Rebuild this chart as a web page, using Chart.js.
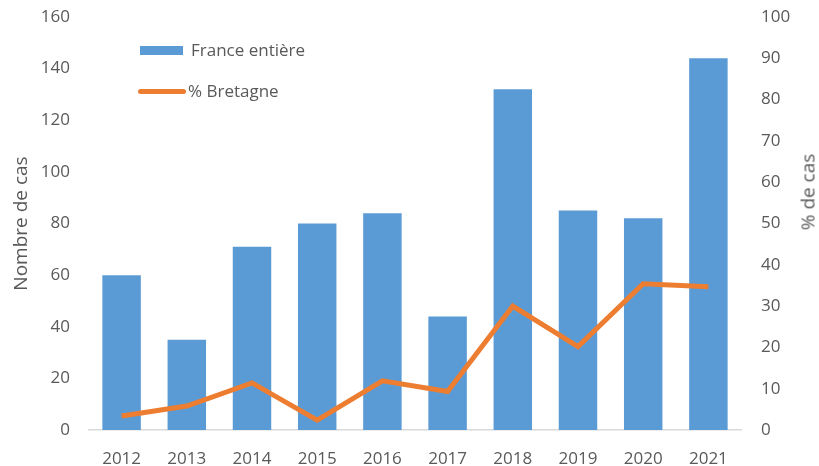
<!DOCTYPE html>
<html>
<head>
<meta charset="utf-8">
<script src="https://cdn.jsdelivr.net/npm/chart.js@4"></script>
<style>
  html, body { margin: 0; padding: 0; background: #fff; }
  #wrap { position: relative; width: 819px; height: 466px; }
  .leg { position: absolute; font: 17px "Open Sans", sans-serif; color: #595959; white-space: nowrap; }
  #rtitle { position: absolute; left: 808px; top: 192px; transform: translate(-50%, -50%) rotate(-90deg);
            font: 19px "Open Sans", sans-serif; color: #595959; white-space: nowrap; line-height: 1; }
</style>
</head>
<body>
<div id="wrap">
  <canvas id="chart" width="819" height="466"></canvas>
  <div style="position:absolute;left:140px;top:46px;width:43px;height:9px;background:#5B9BD5"></div>
  <div class="leg" style="left:191px;top:38px">France entière</div>
  <div style="position:absolute;left:138px;top:89px;width:48px;height:5px;border-radius:3px;background:#ED7D31"></div>
  <div class="leg" style="left:188px;top:79px">% Bretagne</div>
  <div id="rtitle">% de cas</div>
</div>
<script>
const years = ["2012", "2013", "2014", "2015", "2016", "2017", "2018", "2019", "2020", "2021"];
const franceCases = [60, 35, 71, 80, 84, 44, 132, 85, 82, 144];
const bretagnePct = [3.4, 5.8, 11.4, 2.4, 11.9, 9.3, 30, 20.2, 35.4, 34.7];

const textColor = "#595959";
const tickFont = { family: "Open Sans", size: 17 };
const titleFont = { family: "Open Sans", size: 19 };

new Chart(document.getElementById("chart").getContext("2d"), {
  type: "bar",
  data: {
    labels: years,
    datasets: [
      {
        type: "line",
        label: "% Bretagne",
        data: bretagnePct,
        yAxisID: "y1",
        borderColor: "#ED7D31",
        borderWidth: 5,
        pointRadius: 0,
        tension: 0,
        order: 0
      },
      {
        type: "bar",
        label: "France entière",
        data: franceCases,
        yAxisID: "y",
        backgroundColor: "#5B9BD5",
        categoryPercentage: 1,
        barPercentage: 0.59,
        order: 1
      }
    ]
  },
  options: {
    responsive: false,
    animation: false,
    layout: { padding: { top: 17, left: 0, right: 0, bottom: 0 } },
    plugins: { legend: { display: false }, tooltip: { enabled: false } },
    scales: {
      x: {
        grid: { display: false, drawTicks: false },
        border: { display: true, color: "#d9d9d9", width: 1.5 },
        ticks: { color: textColor, font: tickFont, padding: 19, maxRotation: 0 },
        afterFit: s => { s.height = 36; }
      },
      y: {
        position: "left",
        min: 0, max: 160,
        grid: { display: false, drawTicks: false },
        border: { display: false },
        ticks: { stepSize: 20, color: textColor, font: tickFont, padding: 19 },
        title: { display: true, text: "Nombre de cas", color: textColor, font: titleFont, padding: { top: 10, bottom: 0 } },
        afterFit: s => { s.width = 89; s.paddingTop = 0; s.paddingBottom = 0; }
      },
      y1: {
        position: "right",
        min: 0, max: 100,
        grid: { display: false, drawTicks: false },
        border: { display: false },
        ticks: { stepSize: 10, color: textColor, font: tickFont, padding: 20 },
        afterFit: s => { s.width = 78; s.paddingTop = 0; s.paddingBottom = 0; }
      }
    }
  }
});
</script>
</body>
</html>
